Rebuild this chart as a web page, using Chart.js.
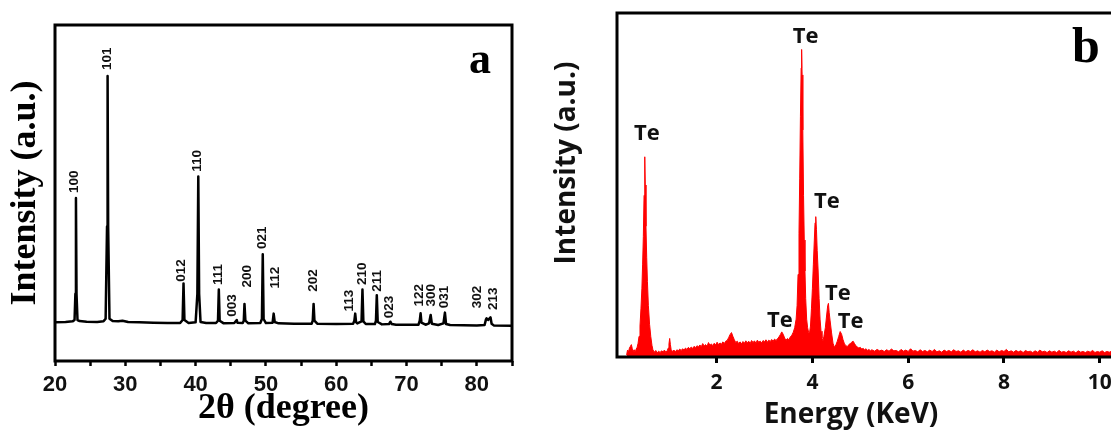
<!DOCTYPE html>
<html>
<head>
<meta charset="utf-8">
<title>Te XRD / EDS</title>
<script src="https://cdn.jsdelivr.net/npm/chart.js@4.4.0/dist/chart.umd.min.js"></script>
<style>
  html, body { margin: 0; padding: 0; background: #fff; overflow: hidden; }
  body { position: relative; width: 1111px; height: 430px; }
  #xrdChart { position: absolute; left: 0; top: 0; }
  #edsChart { position: absolute; left: 540px; top: 0; }
</style>
</head>
<body>
<canvas id="xrdChart" width="540" height="430"></canvas>
<canvas id="edsChart" width="640" height="430"></canvas>
<script>
// (a) XRD 图谱：[2θ, 强度]
const xrdTicks = [20, 30, 40, 50, 60, 70, 80];
const xrdTrace = [
  [20.0, 11.5], [21.5, 11.6], [22.5, 11.8], [22.78, 12.2], [22.9, 20], [22.98, 48.5], [23.06, 20], [23.2, 12.2],
  [23.5, 11.9], [24.5, 11.7], [26.0, 11.6], [26.9, 11.8], [27.2, 12.6], [27.4, 40], [27.48, 84.8], [27.56, 40],
  [27.75, 12.6], [28.2, 11.9], [29.0, 11.8], [29.6, 12.0], [30.4, 11.6], [32.0, 11.5], [34.0, 11.4], [36.0, 11.3],
  [37.8, 11.3], [38.15, 12.2], [38.28, 23.1], [38.41, 12.2], [39.0, 11.3], [40.0, 11.5], [40.25, 20], [40.38, 54.9],
  [40.5, 20], [40.7, 11.6], [41.5, 11.3], [42.9, 11.3], [43.18, 12], [43.3, 21.3], [43.42, 12], [44.0, 11.2],
  [45.5, 11.3], [45.85, 12.2], [45.95, 11.4], [46.7, 11.3], [46.85, 12], [46.95, 17.0], [47.08, 12], [47.5, 11.2],
  [49.2, 11.3], [49.43, 12.5], [49.55, 31.8], [49.67, 12.5], [50.0, 11.3], [50.95, 11.4], [51.1, 14.1], [51.25, 11.6],
  [51.8, 11.2], [54.0, 11.1], [56.5, 11.1], [56.66, 12], [56.78, 17.0], [56.9, 12], [57.3, 11.1], [60.0, 11.0],
  [62.4, 11.1], [62.58, 12], [62.7, 14.1], [62.82, 11.6], [63.0, 11.2], [63.6, 11.8], [63.73, 21.3], [63.86, 11.8],
  [64.2, 11.0], [65.5, 11.0], [65.65, 12], [65.77, 19.6], [65.9, 11.6], [66.5, 10.9], [67.5, 11.0], [67.7, 11.7],
  [67.9, 11.0], [68.5, 10.8], [71.7, 10.8], [71.88, 12], [72.0, 14.2], [72.12, 11.4], [72.7, 10.8], [73.2, 11.2],
  [73.43, 13.7], [73.6, 11.1], [74.5, 10.7], [75.25, 11.2], [75.46, 14.4], [75.62, 11.0], [76.2, 10.7], [80.0, 10.6],
  [81.1, 10.7], [81.3, 12.4], [81.38, 12.7], [81.6, 12.2], [81.94, 13.0], [82.1, 11.1], [82.4, 10.6], [85.0, 10.5]
];
const hklLabels = ['100', '101', '012', '110', '111', '003', '200', '021', '112', '202',
  '113', '210', '211', '023', '122', '300', '031', '302', '213'];
const hklPos = [
  [22.7, 50.0], [27.5, 86.6], [38.0, 23.6], [40.3, 56.3], [43.2, 22.6], [45.2, 13.2], [47.4, 21.9],
  [49.5, 33.3], [51.4, 21.6], [56.8, 20.6], [61.8, 14.7], [63.7, 22.6], [65.8, 20.6], [67.6, 12.7],
  [71.8, 16.2], [73.5, 16.2], [75.4, 15.7], [80.0, 15.7], [82.4, 15.2]
];

// (b) EDS 能谱：[能量 keV, 强度]
const edsTicks = [2, 4, 6, 8, 10];
const edsLow = [
  [0.12, 0.6], [0.14, 2.0], [0.16, 1.5], [0.18, 2.6], [0.20, 3.1], [0.22, 3.6], [0.24, 2.4], [0.26, 1.7], [0.28, 2.1], [0.30, 1.4],
  [0.32, 2.3], [0.34, 2.8], [0.36, 4.0], [0.38, 6.0], [0.40, 9.0], [0.42, 14], [0.44, 20], [0.455, 27], [0.47, 35], [0.485, 47],
  [0.50, 58.2], [0.51, 50], [0.525, 38], [0.54, 29], [0.555, 22], [0.575, 15], [0.60, 9.5], [0.625, 6.0], [0.65, 3.4], [0.67, 2.1],
  [0.70, 1.4], [0.73, 1.9], [0.76, 1.2], [0.79, 1.7], [0.82, 1.3], [0.85, 1.8], [0.88, 1.5], [0.91, 2.0], [0.94, 1.4], [0.97, 1.9],
  [0.99, 2.6], [1.005, 3.8], [1.02, 5.4], [1.035, 3.6], [1.05, 2.2], [1.08, 1.6], [1.11, 2.0], [1.14, 1.5], [1.17, 2.1], [1.20, 1.8],
  [1.23, 2.3], [1.26, 1.9], [1.29, 2.4], [1.32, 2.0], [1.35, 2.6], [1.38, 2.2], [1.41, 2.8], [1.44, 2.4], [1.47, 2.9], [1.50, 2.5],
  [1.53, 3.1], [1.56, 2.7], [1.59, 3.3], [1.62, 2.9], [1.65, 3.5], [1.68, 3.0], [1.71, 3.9], [1.74, 3.2], [1.77, 3.6], [1.80, 3.1],
  [1.83, 4.2], [1.86, 3.4], [1.89, 3.8], [1.92, 3.3], [1.95, 4.0], [1.98, 3.5], [2.01, 4.3], [2.04, 3.6], [2.07, 4.1], [2.10, 3.7],
  [2.13, 4.4], [2.16, 3.9], [2.19, 4.6], [2.22, 4.8], [2.25, 5.6], [2.28, 6.5], [2.31, 7.1], [2.34, 6.0], [2.37, 5.0], [2.40, 4.2],
  [2.43, 4.6], [2.46, 3.9], [2.49, 4.4], [2.52, 3.8], [2.55, 4.5], [2.58, 4.0], [2.61, 4.7], [2.64, 4.1], [2.67, 4.6], [2.70, 3.9],
  [2.73, 4.8], [2.76, 4.2], [2.79, 4.7], [2.82, 4.0], [2.85, 4.9], [2.88, 4.3], [2.91, 4.6], [2.94, 4.1], [2.97, 4.8], [3.00, 4.4],
  [3.03, 5.0], [3.06, 4.3], [3.09, 4.9], [3.12, 4.5], [3.15, 5.1], [3.18, 4.6], [3.21, 5.2], [3.24, 4.8], [3.27, 5.3], [3.30, 5.8],
  [3.33, 6.5], [3.36, 7.3], [3.39, 6.6], [3.42, 5.5], [3.45, 4.9], [3.48, 5.4], [3.51, 5.0], [3.54, 5.9], [3.57, 6.3], [3.60, 7.2]
];
const edsPeaks = [
  [3.63, 8.5], [3.66, 11], [3.68, 15], [3.70, 24], [3.72, 36], [3.735, 52], [3.75, 70], [3.765, 84], [3.775, 89.4], [3.785, 82],
  [3.80, 66], [3.815, 47], [3.83, 34], [3.845, 25], [3.86, 17], [3.88, 11], [3.90, 8.5], [3.92, 7.2], [3.94, 7.0], [3.96, 9],
  [3.98, 14], [4.00, 20], [4.02, 27], [4.04, 34], [4.055, 39], [4.07, 40.8], [4.085, 37], [4.10, 31], [4.12, 25], [4.14, 17],
  [4.16, 11], [4.18, 7.5], [4.20, 5.5], [4.22, 4.6], [4.24, 6], [4.27, 8.5], [4.30, 12.5], [4.32, 15], [4.335, 15.6], [4.35, 13],
  [4.37, 10.5], [4.40, 7], [4.43, 4], [4.46, 2.8], [4.49, 3.5], [4.52, 4.6], [4.55, 6.0], [4.58, 7.4], [4.61, 6.6], [4.64, 5.0],
  [4.67, 3.8], [4.70, 3.3], [4.73, 3.0], [4.76, 3.6], [4.79, 3.9], [4.82, 4.3], [4.85, 4.6], [4.88, 3.9], [4.91, 3.2], [4.94, 2.9],
  [4.97, 2.6], [5.00, 2.8], [5.03, 2.3], [5.06, 2.5], [5.09, 2.1], [5.12, 2.4], [5.15, 1.9], [5.18, 2.2], [5.21, 1.8], [5.24, 2.1]
];
const edsTail = [
  [5.30, 1.7], [5.35, 2.2], [5.40, 1.8], [5.45, 2.0], [5.50, 1.6], [5.55, 2.1], [5.60, 1.7], [5.65, 2.3], [5.70, 1.8], [5.75, 1.9],
  [5.80, 1.5], [5.85, 2.2], [5.90, 1.7], [5.95, 2.0], [6.00, 1.6], [6.05, 2.4], [6.10, 1.7], [6.15, 1.9], [6.20, 1.5], [6.25, 2.1],
  [6.30, 1.6], [6.35, 1.9], [6.40, 1.5], [6.45, 2.0], [6.50, 1.6], [6.55, 2.2], [6.60, 1.5], [6.65, 1.8], [6.70, 1.4], [6.75, 2.0],
  [6.80, 1.6], [6.85, 1.9], [6.90, 1.5], [6.95, 2.1], [7.00, 1.6], [7.05, 1.8], [7.10, 1.4], [7.15, 2.0], [7.20, 1.5], [7.25, 1.9],
  [7.30, 1.6], [7.35, 2.1], [7.40, 1.5], [7.45, 1.8], [7.50, 1.4], [7.55, 1.9], [7.60, 1.5], [7.65, 2.0], [7.70, 1.6], [7.75, 1.8],
  [7.80, 1.4], [7.85, 2.0], [7.90, 1.5], [7.95, 1.9], [8.00, 1.6], [8.05, 2.2], [8.10, 1.5], [8.15, 1.8], [8.20, 1.4], [8.25, 1.9],
  [8.30, 1.5], [8.35, 1.8], [8.40, 1.3], [8.45, 1.9], [8.50, 1.5], [8.55, 1.7], [8.60, 1.3], [8.65, 1.8], [8.70, 1.4], [8.75, 2.0],
  [8.80, 1.5], [8.85, 1.7], [8.90, 1.3], [8.95, 1.8], [9.00, 1.4], [9.05, 1.7], [9.10, 1.3], [9.15, 1.9], [9.20, 1.4], [9.25, 1.6],
  [9.30, 1.3], [9.35, 1.8], [9.40, 1.4], [9.45, 1.7], [9.50, 1.2], [9.55, 1.8], [9.60, 1.4], [9.65, 1.6], [9.70, 1.3], [9.75, 1.7],
  [9.80, 1.4], [9.85, 1.9], [9.90, 1.3], [9.95, 1.6], [10.00, 1.4], [10.05, 1.8], [10.10, 1.3], [10.15, 1.6], [10.20, 1.4], [10.25, 1.7],
  [10.30, 1.3], [10.35, 1.6], [10.40, 1.4], [10.45, 1.8], [10.50, 1.3], [10.55, 1.6], [10.60, 1.4], [10.65, 1.7], [10.70, 1.4], [10.75, 1.6],
  [10.80, 1.3], [10.85, 1.5]
];
const edsLabels = ['Te', 'Te', 'Te', 'Te', 'Te', 'Te'];
const edsLabelPos = [[0.545, 63.1], [3.86, 91.3], [4.30, 43.3], [4.53, 16.6], [3.32, 8.7], [4.80, 8.4]];

// 粗黑边框
const framePlugin = {
  id: 'frame',
  afterDatasetsDraw(chart) {
    const { ctx, chartArea: a } = chart;
    ctx.save();
    ctx.strokeStyle = '#000';
    ctx.lineWidth = 3;
    ctx.strokeRect(a.left, a.top, a.right - a.left, a.bottom - a.top);
    ctx.restore();
  }
};

// 晶面标注 + 字母 a
const hklPlugin = {
  id: 'hkl',
  afterDraw(chart) {
    const { ctx, chartArea, scales: { x, y } } = chart;
    ctx.save();
    ctx.fillStyle = '#111';
    ctx.font = 'bold 13.5px "Liberation Sans", Arial, sans-serif';
    ctx.textAlign = 'left';
    ctx.textBaseline = 'middle';
    hklLabels.forEach((t, i) => {
      ctx.save();
      ctx.translate(x.getPixelForValue(hklPos[i][0]), y.getPixelForValue(hklPos[i][1]));
      ctx.rotate(-Math.PI / 2);
      ctx.fillText(t, 0, 0);
      ctx.restore();
    });
    ctx.fillStyle = '#000';
    ctx.font = 'bold 44px "Liberation Serif", "Times New Roman", serif';
    ctx.textAlign = 'right';
    ctx.textBaseline = 'alphabetic';
    ctx.fillText('a', chartArea.right - 21, 73);
    ctx.restore();
  }
};

// Te 标注、字母 b、坐标轴标题
const edsTextPlugin = {
  id: 'edsText',
  afterDraw(chart) {
    const { ctx, scales: { x, y } } = chart;
    ctx.save();
    ctx.fillStyle = '#111';
    ctx.textBaseline = 'alphabetic';
    ctx.textAlign = 'center';
    ctx.font = 'bold 22px "Open Sans", sans-serif';
    edsLabels.forEach((t, i) => {
      ctx.fillText(t, x.getPixelForValue(edsLabelPos[i][0]), y.getPixelForValue(edsLabelPos[i][1]));
    });
    ctx.font = 'bold 28px "Open Sans", sans-serif';
    ctx.fillText('Energy (KeV)', 311, 423);
    ctx.save();
    ctx.translate(35, 163);
    ctx.rotate(-Math.PI / 2);
    ctx.fillText('Intensity (a.u.)', 0, 0);
    ctx.restore();
    ctx.fillStyle = '#000';
    ctx.textAlign = 'left';
    ctx.font = 'bold 50px "Liberation Serif", "Times New Roman", serif';
    ctx.fillText('b', 532, 62);
    ctx.restore();
  }
};

new Chart(document.getElementById('xrdChart').getContext('2d'), {
  type: 'line',
  data: {
    datasets: [{
      data: xrdTrace.map(([x, y]) => ({ x, y })),
      borderColor: '#000',
      borderWidth: 2.5,
      borderJoinStyle: 'round',
      pointRadius: 0,
      tension: 0,
      fill: false
    }]
  },
  options: {
    responsive: false,
    animation: false,
    layout: { padding: { top: 25, right: 28, left: 0, bottom: 0 } },
    scales: {
      x: {
        type: 'linear',
        min: 20,
        max: 85,
        afterFit(scale) { scale.height = 69; },
        border: { display: false },
        grid: { drawOnChartArea: false, drawTicks: true, tickLength: 5, tickWidth: 2.5, tickColor: '#000' },
        ticks: {
          stepSize: 5,
          autoSkip: false,
          maxRotation: 0,
          padding: 6,
          color: '#111',
          font: { family: '"Liberation Sans", Arial, sans-serif', size: 22, weight: 'bold' },
          callback: v => xrdTicks.includes(v) ? String(v) : ''
        },
        title: {
          display: true,
          text: '2θ (degree)',
          color: '#000',
          padding: { top: 0, bottom: 0 },
          font: { family: '"Liberation Serif", "Times New Roman", serif', size: 36, weight: 'bold' }
        }
      },
      y: {
        min: 0,
        max: 100,
        afterFit(scale) { scale.width = 55; },
        border: { display: false },
        grid: { display: false },
        ticks: { display: false },
        title: {
          display: true,
          text: 'Intensity (a.u.)',
          color: '#000',
          padding: { top: 4, bottom: 0 },
          font: { family: '"Liberation Serif", "Times New Roman", serif', size: 36, weight: 'bold' }
        }
      }
    },
    plugins: { legend: { display: false }, tooltip: { enabled: false } }
  },
  plugins: [framePlugin, hklPlugin]
});

new Chart(document.getElementById('edsChart').getContext('2d'), {
  type: 'line',
  data: {
    datasets: [{
      data: edsLow.concat(edsPeaks, edsTail).map(([x, y]) => ({ x, y })),
      borderColor: '#ff0000',
      backgroundColor: '#ff0000',
      borderWidth: 1,
      pointRadius: 0,
      tension: 0,
      fill: 'origin'
    }]
  },
  options: {
    responsive: false,
    animation: false,
    layout: { padding: { top: 13, right: 40, left: 0, bottom: 0 } },
    scales: {
      x: {
        type: 'linear',
        min: -0.08,
        max: 10.84,
        afterFit(scale) { scale.height = 73; },
        afterBuildTicks(scale) { scale.ticks = scale.ticks.filter(t => edsTicks.includes(t.value)); },
        border: { display: false },
        grid: { drawOnChartArea: false, drawTicks: true, tickLength: 6, tickWidth: 3, tickColor: '#000' },
        ticks: {
          stepSize: 2,
          includeBounds: false,
          autoSkip: false,
          maxRotation: 0,
          padding: 7,
          color: '#111',
          font: { family: '"Open Sans", sans-serif', size: 21, weight: 'bold' }
        }
      },
      y: {
        min: 0,
        max: 100,
        afterFit(scale) { scale.width = 77; },
        border: { display: false },
        grid: { display: false },
        ticks: { display: false }
      }
    },
    plugins: { legend: { display: false }, tooltip: { enabled: false } }
  },
  plugins: [framePlugin, edsTextPlugin]
});
</script>
</body>
</html>
